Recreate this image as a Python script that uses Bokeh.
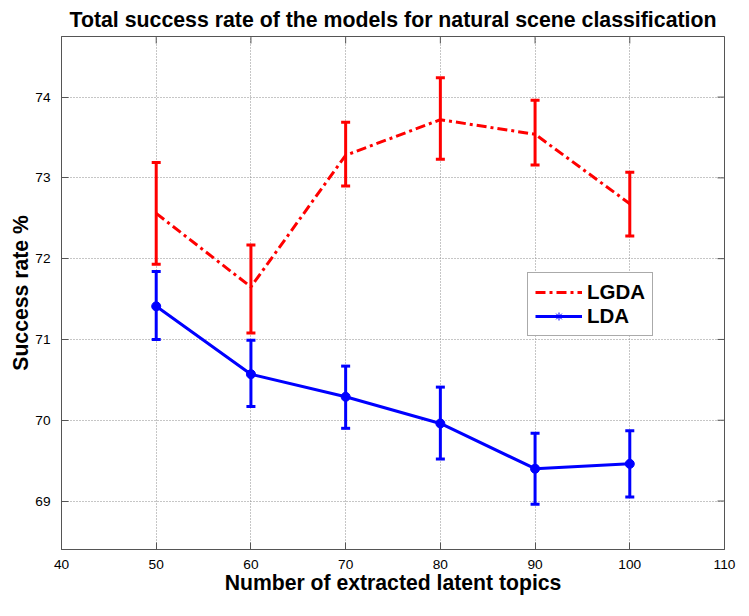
import math
from bokeh.plotting import figure
from bokeh.models import (ColumnDataSource, Whisker, TeeHead, Range1d,
                          FixedTicker, Legend, LegendItem)
from bokeh.embed import file_html
from bokeh.resources import INLINE

# ---- data ----
topics = [50, 60, 70, 80, 90, 100]
lgda_mean = [72.56, 71.65, 73.28, 73.72, 73.54, 72.68]
lgda_lower = [71.93, 71.08, 72.90, 73.23, 73.16, 72.28]
lgda_upper = [73.19, 72.17, 73.69, 74.24, 73.96, 73.07]
lda_mean = [71.41, 70.57, 70.29, 69.96, 69.40, 69.46]
lda_lower = [71.00, 70.17, 69.90, 69.52, 68.96, 69.05]
lda_upper = [71.84, 70.99, 70.67, 70.41, 69.84, 69.87]
x_ticks = [40, 50, 60, 70, 80, 90, 100, 110]
y_ticks = [69, 70, 71, 72, 73, 74]
x_lim = (40, 110)
y_lim = (68.4, 74.75)

FONT = "Liberation Sans"
FRAME = "#555555"
RED = "#ff0000"
BLUE = "#0000ff"

p = figure(width=741, height=600, output_backend="svg", toolbar_location=None,
           x_range=Range1d(*x_lim), y_range=Range1d(*y_lim),
           min_border_left=61, min_border_right=17, min_border_top=36, min_border_bottom=51,
           background_fill_color="white", border_fill_color="white")

p.title.text = "Total success rate of the models for natural scene classification"
p.title.text_font = FONT
p.title.text_font_style = "bold"
p.title.text_font_size = "21.3px"
p.title.align = "center"
p.title.text_color = "black"
p.title.standoff = 10

p.outline_line_color = FRAME
p.outline_line_width = 1
p.outline_line_alpha = 1

for ax in (p.xaxis[0], p.yaxis[0]):
    ax.major_tick_in = 7
    ax.major_tick_out = 0
    ax.minor_tick_line_color = None
    ax.axis_line_color = FRAME
    ax.major_tick_line_color = FRAME
    ax.major_label_text_font = FONT
    ax.major_label_text_font_size = "13.7px"
    ax.major_label_text_color = "black"
    ax.axis_label_text_font = FONT
    ax.axis_label_text_font_style = "bold"
    ax.axis_label_text_font_size = "21.2px"
    ax.axis_label_text_color = "black"

p.xaxis.ticker = FixedTicker(ticks=x_ticks)
p.yaxis.ticker = FixedTicker(ticks=y_ticks)
p.xaxis.axis_label = "Number of extracted latent topics"
p.yaxis.axis_label = "Success rate %"
p.xaxis.major_label_standoff = 10
p.xaxis.axis_label_standoff = -1
p.yaxis.major_label_standoff = 11
p.yaxis.axis_label_standoff = 0

p.xgrid.ticker = FixedTicker(ticks=x_ticks)
p.ygrid.ticker = FixedTicker(ticks=y_ticks)
for g in (p.xgrid[0], p.ygrid[0]):
    g.grid_line_color = "#8c8c8c"
    g.grid_line_dash = "1 2"
    g.grid_line_width = 1

# inward tick marks on the right and top edges of the box (clipped to the frame)
p.scatter(x=[x_lim[1]] * len(y_ticks), y=y_ticks, marker="dash", size=14,
          line_color=FRAME, line_width=1)
p.scatter(x=x_ticks, y=[y_lim[1]] * len(x_ticks), marker="dash", size=14,
          angle=math.pi / 2, line_color=FRAME, line_width=1)

src_lgda = ColumnDataSource(dict(x=topics, y=lgda_mean, lo=lgda_lower, hi=lgda_upper))
src_lda = ColumnDataSource(dict(x=topics, y=lda_mean, lo=lda_lower, hi=lda_upper))

r_lgda = p.line("x", "y", source=src_lgda, line_color=RED, line_width=3,
                line_dash="10 4 3 4")
r_lda = p.line("x", "y", source=src_lda, line_color=BLUE, line_width=3)
r_star = p.scatter("x", "y", source=src_lda, marker="asterisk", size=7,
                   line_color=BLUE, line_width=1)
p.scatter("x", "y", source=src_lda, marker="circle", size=9,
          fill_color=BLUE, line_color=BLUE)

for src, col in ((src_lgda, RED), (src_lda, BLUE)):
    w = Whisker(source=src, base="x", lower="lo", upper="hi",
                line_color=col, line_width=3,
                upper_head=TeeHead(size=9, line_color=col, line_width=3),
                lower_head=TeeHead(size=9, line_color=col, line_width=3))
    p.add_layout(w)

legend = Legend(items=[LegendItem(label="LGDA", renderers=[r_lgda]),
                       LegendItem(label="LDA", renderers=[r_lda, r_star])],
                location=(466, 213), orientation="vertical",
                label_text_font=FONT, label_text_font_style="bold",
                label_text_font_size="20.5px", label_text_color="black",
                glyph_width=47, glyph_height=20, label_height=20,
                label_standoff=5, padding=7, spacing=0, margin=0,
                border_line_color=FRAME, border_line_width=1,
                background_fill_color="white", background_fill_alpha=1)
p.add_layout(legend)

open("out.html", "w").write(file_html(p, INLINE))
